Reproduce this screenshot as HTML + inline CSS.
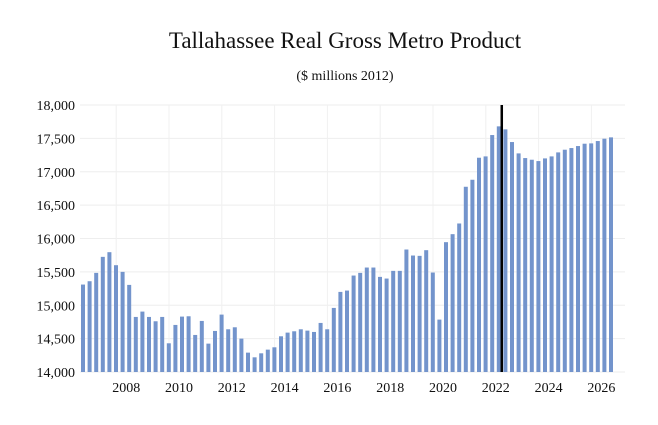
<!DOCTYPE html>
<html><head><meta charset="utf-8"><style>
body{margin:0;background:#fff}
svg text{font-family:"Liberation Serif",serif;fill:#111}
</style></head><body>
<svg width="658" height="420">
<text x="345" y="48" font-size="23" text-anchor="middle">Tallahassee Real Gross Metro Product</text>
<text x="345" y="80" font-size="14" text-anchor="middle">($ millions 2012)</text>
<g id="grid"></g>
<g id="yaxis"></g>
<g id="xaxis"></g>
<g id="bars"></g>
</svg>
<script>
const values=[15310,15360,15485,15725,15795,15600,15500,15305,14825,14905,14825,14760,14825,14430,14705,14830,14835,14555,14765,14425,14615,14860,14640,14670,14500,14290,14220,14280,14335,14370,14535,14590,14610,14640,14620,14600,14735,14640,14960,15200,15220,15445,15485,15565,15565,15425,15400,15515,15515,15835,15745,15740,15825,15490,14785,15945,16065,16225,16775,16880,17210,17230,17550,17680,17635,17445,17275,17205,17180,17160,17200,17230,17290,17330,17355,17385,17420,17425,17460,17495,17515];
const yTicks=[14000,14500,15000,15500,16000,16500,17000,17500,18000];
const xLabels=["2008","2010","2012","2014","2016","2018","2020","2022","2024","2026"];
const forecastAfterIndex=63;
const NS="http://www.w3.org/2000/svg";
const x0=83,x1=611,yMin=14000,yMax=18000,py0=372,py1=105;
const step=(x1-x0)/(values.length-1);
function xs(i){return x0+i*step;}
function ys(v){return py0-(v-yMin)/(yMax-yMin)*(py0-py1);}
function mk(t,a,p){const e=document.createElementNS(NS,t);for(const k in a)e.setAttribute(k,a[k]);p.appendChild(e);return e;}
const grid=document.getElementById('grid'),ya=document.getElementById('yaxis'),xa=document.getElementById('xaxis'),bars=document.getElementById('bars');
yTicks.forEach(v=>{
 const l=mk('line',{x1:80,x2:625,y1:ys(v),y2:ys(v),stroke:'#eeeeee','stroke-width':1},grid);
 
 
 const t=mk('text',{x:75,y:ys(v)+5,'font-size':14,'text-anchor':'end'},ya);
 t.textContent=v.toLocaleString('en-US');
 
 
});
xLabels.forEach((s,k)=>{
 const cx=xs(7)+(k*8)*step-3;
 const gx=cx-10;
 const l=mk('line',{x1:gx,x2:gx,y1:py1,y2:py0,stroke:'#f0f0f0','stroke-width':1},grid);
 
 
 const t=mk('text',{x:cx,y:392,'font-size':14,'text-anchor':'middle'},xa);
 t.textContent=s;
 
 
});
values.forEach((v,i)=>{
 const r=mk('rect',{x:xs(i)-2,y:ys(v),width:4,height:py0-ys(v),fill:'#7394cc'},bars);
 
 
});
const fx=xs(forecastAfterIndex)+step*0.45;
const fl=mk('line',{x1:fx,x2:fx,y1:py1,y2:py0,stroke:'#000','stroke-width':2.5},bars);


</script>
</body></html>
